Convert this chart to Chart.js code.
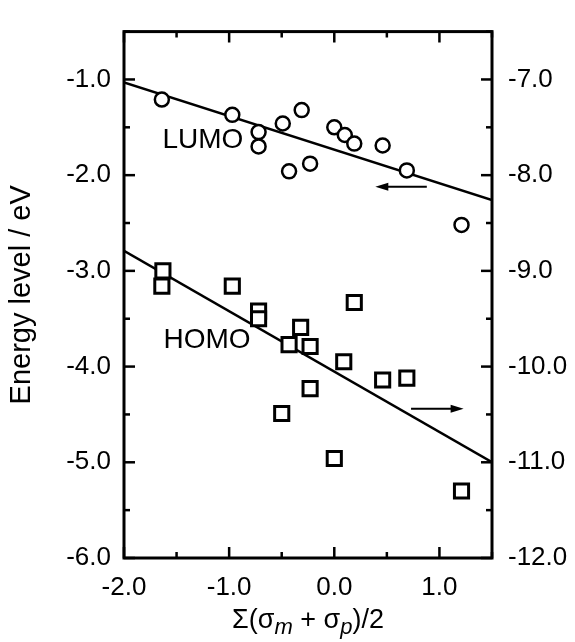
<!DOCTYPE html>
<html><head><meta charset="utf-8">
<script src="https://cdn.jsdelivr.net/npm/chart.js@4.4.1/dist/chart.umd.min.js"></script>
<style>html,body{margin:0;padding:0;background:#fff;}</style>
</head><body>
<canvas id="c" width="575" height="642"></canvas>
<script>
// ---- data ----
const lumoX = [-1.64, -0.97, -0.72, -0.72, -0.49, -0.31, -0.43, -0.23, 0.00, 0.10, 0.19, 0.46, 0.69, 1.21];
const lumoY = [-1.21, -1.37, -1.55, -1.70, -1.46, -1.32, -1.96, -1.88, -1.50, -1.58, -1.67, -1.69, -1.95, -2.52];
const homoX = [-1.63, -1.64, -0.97, -0.72, -0.72, -0.32, -0.43, -0.23, 0.19, 0.09, 0.46, 0.69, -0.23, -0.50, 0.00, 1.21];
const homoY = [-9.00, -9.16, -9.16, -9.42, -9.50, -9.59, -9.77, -9.79, -9.33, -9.95, -10.14, -10.12, -10.23, -10.49, -10.96, -11.30];
const lumoFitX = [-2.0, 1.5];
const lumoFitY = [-1.03, -2.26];
const homoFitX = [-2.0, 1.5];
const homoFitY = [-8.79, -11.0];
const xTickValues = [-2.0, -1.0, 0.0, 1.0];
const leftTickValues = [-6.0, -5.0, -4.0, -3.0, -2.0, -1.0];
const rightTickValues = [-12.0, -11.0, -10.0, -9.0, -8.0, -7.0];
const yTitle = 'Energy level / eV';
const lumoLabel = 'LUMO';
const homoLabel = 'HOMO';

// annotation placement (data coordinates)
const notes = [
  {text: lumoLabel, x: -1.25, y: -1.64, axis: 'y'},
  {text: homoLabel, x: -1.21, y: -9.73, axis: 'y2'}
];
const arrows = [
  {x1: 0.88, x2: 0.39, y: -2.12, axis: 'y'},
  {x1: 0.73, x2: 1.23, y: -10.44, axis: 'y2'}
];

const FONT = "'Liberation Sans', Arial, Helvetica, sans-serif";
const toPts = (xs, ys) => xs.map((x, i) => ({x, y: ys[i]}));

const decor = {
  id: 'decor',
  afterDatasetsDraw(chart) {
    const {ctx, chartArea: a, scales} = chart;
    const xs = scales.x, yl = scales.y, yr = scales.y2;
    ctx.save();
    ctx.strokeStyle = '#000';
    ctx.fillStyle = '#000';
    // frame
    ctx.lineWidth = 3;
    ctx.strokeRect(a.left, a.top, a.right - a.left, a.bottom - a.top);
    // inward ticks
    ctx.lineWidth = 2.5;
    const majL = 11, minL = 6;
    const tickX = (v, len) => {
      const p = xs.getPixelForValue(v);
      ctx.beginPath();
      ctx.moveTo(p, a.bottom); ctx.lineTo(p, a.bottom - len);
      ctx.moveTo(p, a.top); ctx.lineTo(p, a.top + len);
      ctx.stroke();
    };
    xTickValues.forEach(v => { tickX(v, majL); tickX(v + 0.5, minL); });
    leftTickValues.forEach(v => {
      const p = yl.getPixelForValue(v);
      ctx.beginPath(); ctx.moveTo(a.left, p); ctx.lineTo(a.left + majL, p); ctx.stroke();
      const q = yl.getPixelForValue(v + 0.5);
      ctx.beginPath(); ctx.moveTo(a.left, q); ctx.lineTo(a.left + minL, q); ctx.stroke();
    });
    rightTickValues.forEach(v => {
      const p = yr.getPixelForValue(v);
      ctx.beginPath(); ctx.moveTo(a.right, p); ctx.lineTo(a.right - majL, p); ctx.stroke();
      const q = yr.getPixelForValue(v + 0.5);
      ctx.beginPath(); ctx.moveTo(a.right, q); ctx.lineTo(a.right - minL, q); ctx.stroke();
    });
    // arrows
    ctx.lineWidth = 2;
    arrows.forEach(ar => {
      const ys = scales[ar.axis];
      const x1 = xs.getPixelForValue(ar.x1), x2 = xs.getPixelForValue(ar.x2);
      const y = ys.getPixelForValue(ar.y);
      const dir = Math.sign(x2 - x1);
      ctx.beginPath(); ctx.moveTo(x1, y); ctx.lineTo(x2 - dir * 8, y); ctx.stroke();
      ctx.beginPath();
      ctx.moveTo(x2, y); ctx.lineTo(x2 - dir * 13, y - 4); ctx.lineTo(x2 - dir * 13, y + 4);
      ctx.closePath(); ctx.fill();
    });
    // labels
    ctx.font = '28px ' + FONT;
    ctx.textAlign = 'center';
    ctx.textBaseline = 'middle';
    notes.forEach(n => {
      ctx.fillText(n.text, xs.getPixelForValue(n.x), scales[n.axis].getPixelForValue(n.y));
    });
    // x-axis title with italic subscripts
    const parts = [
      {t: 'Σ(σ', f: '27px ' + FONT, dy: 0},
      {t: 'm', f: 'italic 22px ' + FONT, dy: 6},
      {t: ' + σ', f: '27px ' + FONT, dy: 0},
      {t: 'p', f: 'italic 22px ' + FONT, dy: 6},
      {t: ')/2', f: '27px ' + FONT, dy: 0}
    ];
    let w = 0;
    parts.forEach(p => { ctx.font = p.f; p.w = ctx.measureText(p.t).width; w += p.w; });
    let x = (a.left + a.right) / 2 - w / 2;
    const base = 628;
    ctx.textAlign = 'left';
    ctx.textBaseline = 'alphabetic';
    parts.forEach(p => { ctx.font = p.f; ctx.fillText(p.t, x, base + p.dy); x += p.w; });
    ctx.restore();
  }
};

const fmt = v => (Math.abs(v - Math.round(v)) < 1e-9 ? Number(v).toFixed(1) : '');

new Chart(document.getElementById('c'), {
  data: {
    datasets: [
      {type: 'scatter', label: 'LUMO', data: toPts(lumoX, lumoY), yAxisID: 'y',
       pointStyle: 'circle', pointRadius: 7, pointBorderWidth: 2.5,
       borderColor: '#000', backgroundColor: '#fff', order: 1},
      {type: 'scatter', label: 'HOMO', data: toPts(homoX, homoY), yAxisID: 'y2',
       pointStyle: 'rect', pointRadius: 10, pointBorderWidth: 3,
       borderColor: '#000', backgroundColor: '#fff', order: 1},
      {type: 'line', label: 'LUMO fit', data: toPts(lumoFitX, lumoFitY), yAxisID: 'y',
       borderColor: '#000', borderWidth: 2.5, pointRadius: 0, fill: false, order: 2},
      {type: 'line', label: 'HOMO fit', data: toPts(homoFitX, homoFitY), yAxisID: 'y2',
       borderColor: '#000', borderWidth: 2.5, pointRadius: 0, fill: false, order: 2}
    ]
  },
  options: {
    responsive: false,
    animation: false,
    events: [],
    layout: {padding: {top: 14, left: 0, right: 0, bottom: 0}},
    plugins: {legend: {display: false}, tooltip: {enabled: false}},
    scales: {
      x: {
        type: 'linear', position: 'bottom', min: -2.0, max: 1.5,
        grid: {display: false, drawTicks: false},
        border: {display: false},
        ticks: {stepSize: 1, includeBounds: false, callback: fmt, color: '#000', padding: 14,
                font: {family: FONT, size: 26}, maxRotation: 0},
        afterFit: s => { s.height = 84; }
      },
      y: {
        type: 'linear', position: 'left', min: -6.0, max: -0.5,
        grid: {display: false, drawTicks: false},
        border: {display: false},
        ticks: {stepSize: 1, includeBounds: false, callback: fmt, color: '#000', padding: 13,
                font: {family: FONT, size: 26}},
        title: {display: true, text: yTitle, color: '#000', font: {family: FONT, size: 29}, padding: {top: 5, bottom: 0}},
        afterFit: s => { s.width = 124; }
      },
      y2: {
        type: 'linear', position: 'right', min: -12.0, max: -6.5,
        grid: {display: false, drawTicks: false},
        border: {display: false},
        ticks: {stepSize: 1, includeBounds: false, callback: fmt, color: '#000', padding: 16,
                font: {family: FONT, size: 26}},
        afterFit: s => { s.width = 83; }
      }
    }
  },
  plugins: [decor]
});
</script>
</body></html>
